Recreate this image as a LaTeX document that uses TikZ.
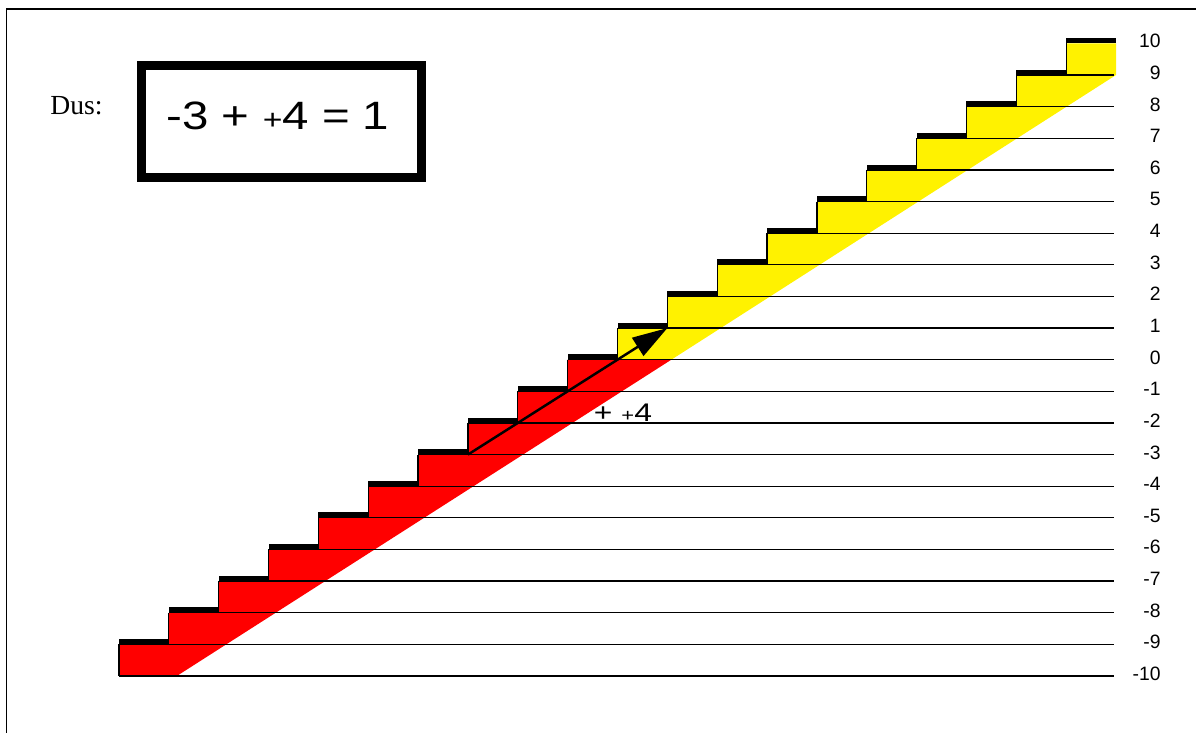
\documentclass[tikz,border=0pt]{standalone}
\usepackage{fontspec}
\setmainfont{Liberation Serif}
\newfontfamily\arial{Liberation Sans}
\usetikzlibrary{arrows.meta}

\begin{document}
\begin{tikzpicture}[line join=miter, >={Triangle[length=20pt,width=12pt]},
	thinline/.style={line width=0.7pt},
	level/.style={font=\arial\fontsize{11}{13}\selectfont, anchor=base east, inner sep=0pt}]
	\useasboundingbox (0,0) rectangle (23.92,14.66);
	% rand
	\draw[line width=0.9pt] (0.13,0) -- (0.13,14.48) -- (23.92,14.48);
	
	% som in kader
	\node[anchor=base, inner sep=0pt, font=\fontsize{15.7}{18}\selectfont] (dus) at (1.53,12.36) {Dus:};
	\node[draw, line width=5.1pt, minimum width=5.6cm, minimum height=2.24cm, inner sep=0pt] (kader) at (5.63,12.23) {};
	\node[anchor=base, inner sep=0pt, xscale=1.2, font=\arial\fontsize{22.5}{26}\selectfont] (som) at (5.56,12.074) {-3 + {\fontsize{16}{16}\selectfont +}4 = 1};
	
	\begin{scope}[shift={(2.38,7.466)}, x=0.997cm, y=0.6326cm]
		% trap: rood onder 0, geel boven 0
		\fill[red] (0,-10) \foreach \n in {-9,...,0} {-- ({\n+9},{\n-1}) -- ({\n+9},\n)} -- (11.08,0) -- (1.16,-10) -- cycle;
		\fill[yellow] (10,0) \foreach \n in {1,...,10} {-- ({\n+9},{\n-1}) -- ({\n+9},\n)} -- (20,10) -- (20,9) -- (11.08,0) -- cycle;
		
		% lijnen per niveau
		\draw[thinline] (0,-10) -- (19.95,-10);
		\foreach \n in {-9,...,9}
			\draw[thinline] ({\n+9},\n) -- (19.95,\n);
		
		% treden
		\foreach \n in {-9,...,10} {
			\draw[thinline] ({\n+9},{\n-1}) -- ({\n+9},\n);
			\fill ({\n+9},\n) rectangle ({\n+10},{\n+0.17});
		}
		
		% getallen
		\foreach \n in {-10,...,10}
			\node[level] (getal\n) at (20.9,{\n-0.14}) {\n};
		
		% pijl van -3 naar 1
		\coordinate (begin) at (7,-3);
		\coordinate (eind) at (11,1);
		\draw[->, line width=1.4pt] (begin) -- (eind);
		\node[anchor=base, inner sep=0pt, xscale=1.25, font=\arial\fontsize{14.5}{17}\selectfont] (stap) at (10.11,-1.96) {+ {\fontsize{10}{10}\selectfont +}4};
	\end{scope}
\end{tikzpicture}
\end{document}
